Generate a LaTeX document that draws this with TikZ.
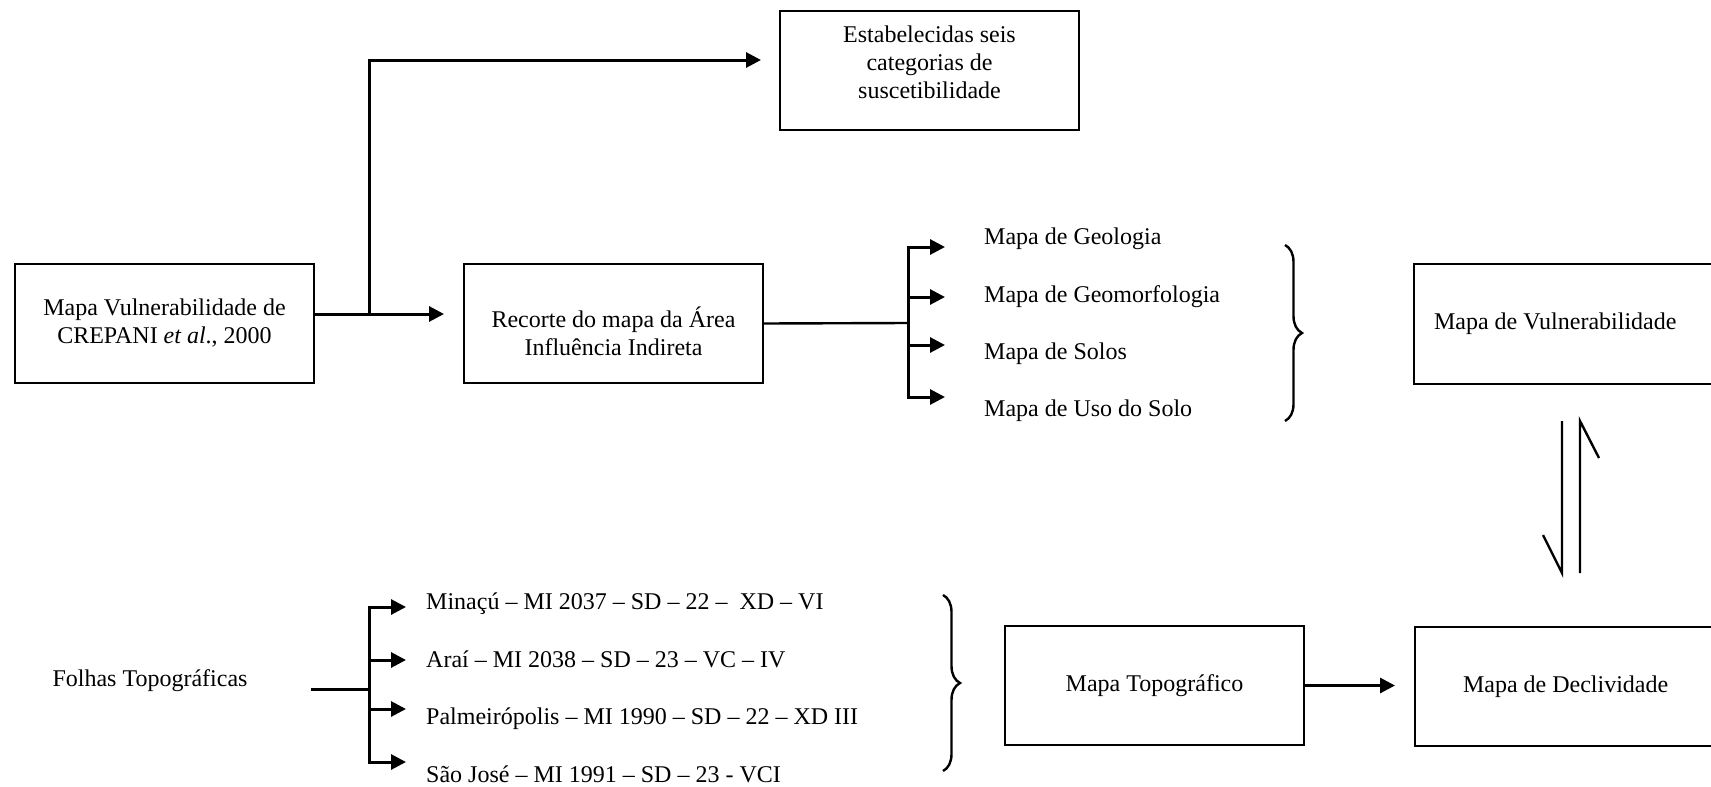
\documentclass[tikz,border=0pt]{standalone}
\usepackage{fontspec}
\setmainfont{Liberation Serif}
\usetikzlibrary{arrows.meta,decorations.pathreplacing,calc}
\begin{document}
\begin{tikzpicture}[x=1pt,y=-1pt,
  every node/.style={font=\fontsize{24}{28}\selectfont},
  box/.style={draw, line width=2pt, minimum width=299pt, minimum height=119pt, align=center, anchor=north west, inner sep=0pt},
  conn/.style={line width=3pt, -{Triangle[length=15pt,width=15pt]}},
  plain/.style={line width=3pt, line cap=rect},
  lbl/.style={anchor=west, inner sep=0pt},
  brc/.style={decorate, decoration={brace, amplitude=17pt}, line width=2.4pt},
  dbl/.style={line width=2.4pt}]
\clip (0,0) rectangle (1711,787);
% boxes
\node[box] (est) at (779,10) {\raisebox{8pt}[\height][\depth]{\parbox{290pt}{\centering Estabelecidas seis\\categorias de\\suscetibilidade}}};
\node[box] (crepani) at (14,263) {Mapa Vulnerabilidade de\\CREPANI \textit{et al}., 2000};
\node[box] (recorte) at (463,263) {\raisebox{-8pt}[\height][\depth]{\parbox{290pt}{\centering Recorte do mapa da Área\\Influência Indireta}}};
\node[box, minimum width=310pt, minimum height=120pt, align=flush left, text width=270pt, inner xsep=20pt] (vul) at (1413,263) {Mapa de Vulnerabilidade};
\node[box] (topo) at (1004,625) {Mapa Topográfico};
\node[box, minimum height=119pt, align=flush left, text width=262pt, inner xsep=48pt] (decl) at (1414,626) {Mapa de Declividade};
% top connectors
\coordinate (a1) at (313,314);
\coordinate (j1) at (369,314);
\draw[conn, shorten >=19pt] (a1) -- (a1 -| recorte.west);
\draw[conn, shorten >=18pt] (j1) |- (est.west |- 0,60);
% top branch labels
\node[lbl] (geo) at (984,239) {Mapa de Geologia};
\node[lbl] (geom) at (984,297) {Mapa de Geomorfologia};
\node[lbl] (sol) at (984,354) {Mapa de Solos};
\node[lbl] (uso) at (984,411) {Mapa de Uso do Solo};
\coordinate (bA) at (908,323);
\coordinate (bT) at (908,247);
\coordinate (bB) at (908,397);
\draw[line width=2.4pt] (recorte.east) -- (bA);
\draw[plain] (bT) -- (bB);
\draw[conn] (bT) -- ++(37,0);
\draw[conn] (908,297) -- ++(37,0);
\draw[conn] (908,345) -- ++(37,0);
\draw[conn] (bB) -- ++(37,0);
\draw[brc] (1285,245) -- (1285,421);
% double arrow
\coordinate (d1) at (1562,421);
\coordinate (d2) at (1562,573);
\coordinate (d3) at (1543,535);
\coordinate (u1) at (1580,573);
\coordinate (u2) at (1580,421);
\coordinate (u3) at (1599,458);
\draw[dbl] (d1) -- (d2) -- (d3);
\draw[dbl] (u1) -- (u2) -- (u3);
% bottom
\node[inner sep=0pt] (folhas) at (150,681) {Folhas Topográficas};
\node[lbl] (f1) at (426,604) {Minaçú – MI 2037 – SD – 22 –\ \ XD – VI};
\node[lbl] (f2) at (426,659) {Araí – MI 2038 – SD – 23 – VC – IV};
\node[lbl] (f3) at (426,719) {Palmeirópolis – MI 1990 – SD – 22 – XD III};
\node[lbl] (f4) at (426,774) {São José – MI 1991 – SD – 23 - VCI};
\coordinate (c0) at (312,689);
\coordinate (cA) at (369,689);
\coordinate (cT) at (369,607);
\coordinate (cB) at (369,762);
\draw[plain] (c0) -- (cA);
\draw[plain] (cT) -- (cB);
\draw[conn] (cT) -- ++(37,0);
\draw[conn] (369,660) -- ++(37,0);
\draw[conn] (369,709) -- ++(37,0);
\draw[conn] (cB) -- ++(37,0);
\draw[brc] (943,595) -- (943,771);
\draw[conn, shorten >=19pt] (topo.east) -- (topo.east -| decl.west);
\end{tikzpicture}
\end{document}
